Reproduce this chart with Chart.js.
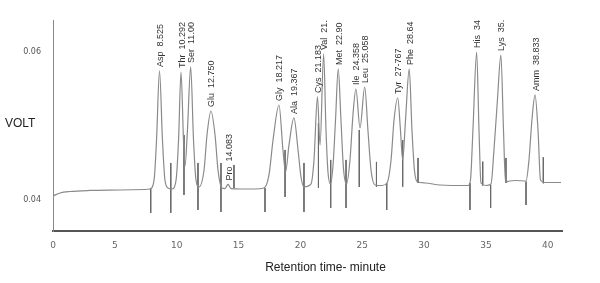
<!DOCTYPE html>
<html>
<head>
<meta charset="utf-8">
<script src="https://cdn.jsdelivr.net/npm/chart.js@4.4.1/dist/chart.umd.min.js"></script>
<style>
  body { margin: 0; background: #fff; }
  #chromatogram { display: block; }
</style>
</head>
<body>
<canvas id="chromatogram" width="600" height="283"></canvas>
<script>
// detector trace (minutes / volts)
const traceTime = [0, 0.57, 1.37, 2.99, 5.42, 7.44,
  7.84, 8.17, 8.37, 8.61, 8.85, 9.05, 9.30,
  9.62, 9.95, 10.15, 10.35, 10.55, 10.67,
  10.87, 11.13, 11.36, 11.56, 11.80,
  12.21, 12.45, 12.77, 13.10, 13.34, 13.66,
  13.90, 14.15, 14.39, 15.12, 16.33,
  17.06, 17.46, 17.79, 18.27, 18.59, 18.80,
  19.08, 19.48, 19.81, 20.05, 20.29,
  20.86, 21.10, 21.38, 21.59,
  21.88, 22.07, 22.23, 22.43,
  22.64, 22.84, 23.06, 23.28, 23.48, 23.73,
  24.01, 24.25, 24.49, 24.82,
  25.20, 25.46, 25.71, 26.03, 26.60,
  27.00, 27.33, 27.57, 27.87, 28.09, 28.27,
  28.50, 28.80, 29.02, 29.22, 29.43, 30.07, 31.29, 33.55,
  33.75, 33.95, 34.25, 34.44, 34.60, 35.00,
  35.41, 35.65, 35.93, 36.21, 36.42, 36.58, 36.94, 37.35,
  38.24, 38.48, 38.72, 38.97, 39.21, 39.41, 39.77, 41.07];
const traceVolt = [0.04054, 0.04095, 0.04115, 0.04129, 0.04135, 0.04142,
  0.04149, 0.04271, 0.04812, 0.05747, 0.04812, 0.04271, 0.04162,
  0.04149, 0.04271, 0.04812, 0.05733, 0.04812, 0.04460,
  0.04948, 0.05801, 0.04812, 0.04271, 0.04176,
  0.04406, 0.04880, 0.05205, 0.04880, 0.04406, 0.04162,
  0.04155, 0.04210, 0.04155, 0.04149, 0.04149,
  0.04162, 0.04339, 0.04812, 0.05286, 0.04677, 0.04379,
  0.04745, 0.05111, 0.04677, 0.04311, 0.04176,
  0.04217, 0.04542, 0.05395, 0.04745,
  0.05977, 0.04948, 0.04379, 0.04217,
  0.04474, 0.05083, 0.05774, 0.05083, 0.04433, 0.04217,
  0.04542, 0.05151, 0.05503, 0.04975,
  0.05530, 0.04948, 0.04406, 0.04203, 0.04196,
  0.04230, 0.04542, 0.05083, 0.05381, 0.04948, 0.04542,
  0.05083, 0.05774, 0.04948, 0.04406, 0.04251, 0.04230, 0.04203, 0.04196,
  0.04271, 0.04948, 0.06004, 0.04948, 0.04230, 0.04196,
  0.04217, 0.04677, 0.05354, 0.05963, 0.04948, 0.04244, 0.04257, 0.04264,
  0.04257, 0.04542, 0.05083, 0.05422, 0.04948, 0.04271, 0.04237, 0.04237];

// peak annotations
const peakLabels = ['Asp  8.525', 'Thr  10.292', 'Ser  11.00', 'Glu  12.750', 'Pro  14.083',
  'Gly  18.217', 'Ala  19.367', 'Cys  21.183', 'Val  21.', 'Met  22.90', 'Ile  24.358',
  'Leu  25.058', 'Tyr  27-767', 'Phe  28.64', 'His  34', 'Lys  35.', 'Amm  38.833'];
const peakTimes = [8.61, 10.35, 11.13, 12.77, 14.15, 18.27, 19.48, 21.38, 21.88, 23.06,
  24.49, 25.20, 27.87, 28.80, 34.25, 36.21, 38.97];
const peakVolts = [0.05747, 0.05733, 0.05801, 0.05205, 0.04210, 0.05286, 0.05111, 0.05395,
  0.05977, 0.05774, 0.05503, 0.05530, 0.05381, 0.05774, 0.06004, 0.05963, 0.05422];

// integration marks (vertical ticks)
const markTimes = [7.90, 9.52, 10.59, 11.72, 13.58, 14.63, 17.14, 18.76, 20.29, 21.46,
  22.45, 23.69, 24.76, 26.15, 26.98, 28.27, 29.51, 33.71, 34.74, 35.38, 36.62, 38.24, 39.64];
const markTop = [0.04158, 0.04501, 0.04880, 0.04501, 0.04501, 0.04474, 0.04162, 0.04677,
  0.04501, 0.05043, 0.04542, 0.04542, 0.04948, 0.04515, 0.04230, 0.04812, 0.04569,
  0.04230, 0.04519, 0.04203, 0.04569, 0.04248, 0.04578];
const markBottom = [0.03824, 0.03824, 0.04068, 0.03865, 0.03838, 0.04162, 0.03838, 0.04041,
  0.03838, 0.04162, 0.03892, 0.03892, 0.04176, 0.04176, 0.03865, 0.04180, 0.04230,
  0.03865, 0.04194, 0.03892, 0.04230, 0.03932, 0.04226];

const xTicks = [0, 5, 10, 15, 20, 25, 30, 35, 40];
const yTicks = [0.04, 0.06];

const traceData = traceTime.map((t, i) => ({ x: t, y: traceVolt[i] }));
const markData = [];
for (let i = 0; i < markTimes.length; i++) {
  markData.push({ x: markTimes[i], y: markTop[i] });
  markData.push({ x: markTimes[i], y: markBottom[i] });
  markData.push({ x: markTimes[i], y: null });
}

const annotate = {
  id: 'annotate',
  afterDatasetsDraw(chart) {
    const ctx = chart.ctx;
    const xs = chart.scales.x, ys = chart.scales.y;
    ctx.save();
    ctx.fillStyle = '#333';
    ctx.font = '9px "Liberation Sans", Arial, sans-serif';
    ctx.textAlign = 'left';
    ctx.textBaseline = 'middle';
    for (let i = 0; i < peakLabels.length; i++) {
      const px = xs.getPixelForValue(peakTimes[i]) + 1;
      const py = ys.getPixelForValue(peakVolts[i]) - 4;
      ctx.save();
      ctx.translate(px, py);
      ctx.rotate(-Math.PI / 2);
      ctx.fillText(peakLabels[i], 0, 0);
      ctx.restore();
    }
    ctx.restore();
  },
  afterDraw(chart) {
    const ctx = chart.ctx;
    const area = chart.chartArea;
    ctx.save();
    ctx.fillStyle = '#222';
    ctx.font = '12px "Liberation Sans", Arial, sans-serif';
    ctx.textBaseline = 'middle';
    ctx.textAlign = 'left';
    ctx.fillText('VOLT', 5, 124);
    ctx.textAlign = 'center';
    ctx.fillText('Retention time- minute', (area.left + area.right) / 2 + 18, 268);
    ctx.restore();
  }
};

new Chart(document.getElementById('chromatogram'), {
  type: 'scatter',
  data: {
    datasets: [{
      data: traceData,
      showLine: true,
      borderColor: '#8a8a8a',
      borderWidth: 1.2,
      pointRadius: 0,
      cubicInterpolationMode: 'monotone'
    }, {
      data: markData,
      showLine: true,
      spanGaps: false,
      borderColor: '#6a6a6a',
      borderWidth: 1,
      pointRadius: 0
    }]
  },
  options: {
    responsive: false,
    animation: false,
    devicePixelRatio: 1,
    layout: { padding: { top: 20, right: 38, left: 0, bottom: 0 } },
    plugins: { legend: { display: false }, tooltip: { enabled: false } },
    scales: {
      x: {
        type: 'linear',
        min: 0,
        max: 41.15,
        afterFit: (s) => { s.height = 52; },
        afterBuildTicks: (s) => { s.ticks = xTicks.map(v => ({ value: v })); },
        grid: { display: false },
        border: { color: '#555', width: 2 },
        ticks: { padding: 1, color: '#666', maxRotation: 0, font: { size: 9, family: 'DejaVu Sans' } }
      },
      y: {
        min: 0.0358,
        max: 0.06437,
        afterFit: (s) => { s.width = 53; },
        afterBuildTicks: (s) => { s.ticks = yTicks.map(v => ({ value: v })); },
        grid: { display: false },
        border: { color: '#888', width: 1 },
        ticks: { padding: 4, color: '#555', font: { size: 8, family: 'DejaVu Sans' },
          callback: (v) => v.toFixed(2) }
      }
    }
  },
  plugins: [annotate]
});
</script>
</body>
</html>
